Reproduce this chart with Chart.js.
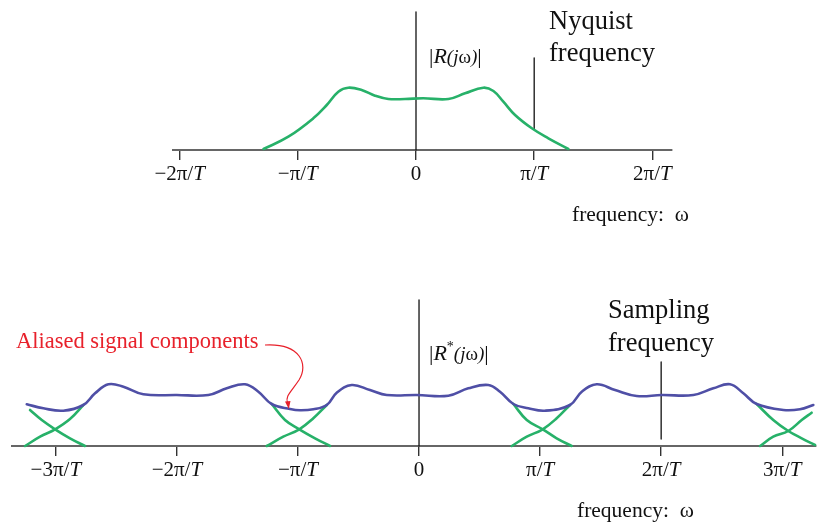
<!DOCTYPE html>
<html><head><meta charset="utf-8">
<script src="https://cdn.jsdelivr.net/npm/chart.js@4.4.0/dist/chart.umd.min.js"></script>
<style>
html,body{margin:0;padding:0;background:#fff;}
#wrap{position:relative;width:820px;height:527px;overflow:hidden;background:#fff;}
canvas{position:absolute;left:0;top:0;}
</style></head><body>
<div id="wrap"><canvas id="c1" width="820" height="527"></canvas><canvas id="c2" width="820" height="527"></canvas></div>
<script>
// ---------- data (x in units of π/T, y = magnitude) ----------
const topTicks = [-2, -1, 0, 1, 2];
const topTickLabels = ["−2π/T", "−π/T", "0", "π/T", "2π/T"];
const bottomTicks = [-3, -2, -1, 0, 1, 2, 3];
const bottomTickLabels = ["−3π/T", "−2π/T", "−π/T", "0", "π/T", "2π/T", "3π/T"];

// |R(jω)| continuous spectrum
const spectrumX = [-1.29,-1.080,-0.869,-0.755,-0.657,-0.573,-0.460,-0.347,-0.234,-0.093,0.062,0.274,0.415,0.570,0.655,0.739,0.838,0.980,1.120,1.289];
const spectrumY = [1,13.3,31.7,45,58.3,62.3,60,54.3,51,51,51.7,51,56.7,62.3,59,48.3,35,21.7,11.7,1];

// |R*(jω)| sampled spectrum (sum of shifted copies)
const sampledX = [-3.240,-3.103,-2.938,-2.773,-2.676,-2.566,-2.442,-2.277,-2.001,-1.740,-1.588,-1.437,-1.327,-1.217,-1.065,-0.983,-0.873,-0.762,-0.680,-0.556,-0.405,-0.267,-0.019,0.242,0.407,0.572,0.669,0.779,0.903,1.041,1.247,1.344,1.468,1.619,1.798,2.005,2.266,2.431,2.569,2.679,2.789,3.009,3.147,3.257];
const sampledY = [41.7,37.7,35.3,41,52.7,61.7,59.3,51.7,51,51,57.7,61.7,54.3,42,37,35.7,36.7,41,53.3,61,56,51,51,50.3,57.7,61,54.3,42,37.7,35.3,41,54.3,61.7,56,50,51,51,57.7,61.7,52.7,42,36,36.7,41];

// overlapping tails of the shifted copies (aliased components)
const tailDownNeg3X = [-3.213,-3.116,-3.006,-2.883,-2.759];
const tailDownNeg3Y = [36,26,16.7,7.7,0];
const tailUpNeg3X = [-3.254,-3.130,-3.006,-2.883,-2.773];
const tailUpNeg3Y = [0,9.3,16.7,27,41];
const tailDownNeg1X = [-1.217,-1.107,-0.989,-0.859,-0.735];
const tailDownNeg1Y = [42,26,16.7,7.7,0];
const tailUpNeg1X = [-1.258,-1.121,-0.989,-0.873,-0.762];
const tailUpNeg1Y = [0,9.3,16.7,27.7,41];
const tailDownPos1X = [0.779,0.890,1.022,1.137,1.261];
const tailDownPos1Y = [42,26,16.7,7.7,0];
const tailUpPos1X = [0.766,0.890,1.022,1.137,1.247];
const tailUpPos1Y = [0,9.3,16.7,27.7,41];
const tailDownPos3X = [2.789,2.926,3.050,3.161,3.271];
const tailDownPos3Y = [42,26,15,7.7,1];
const tailUpPos3X = [2.817,2.926,3.050,3.161,3.243];
const tailUpPos3Y = [0,9.3,15,26,33.3];

// marker lines
const nyquistX = 1, nyquistY = [21, 92];
const samplingX = 2, samplingY = [7, 84];
const topAxisLineY = [0, 138];
const bottomAxisLineY = [0, 146];

// ---------- helpers ----------
const GREEN = '#27b169', BLUE = '#4f4fa6', RED = '#e8212b';
const SERIF = '"Liberation Serif", "Times New Roman", serif';
function pts(xs, ys) { return xs.map((x, i) => ({x: x, y: ys[i]})); }
function vline(x, ys) { return ys.map(y => ({x: x, y: y})); }
function curve(data, color) {
  return {data: data, borderColor: color, borderWidth: 2.6, pointRadius: 0, fill: false,
          tension: 0.4, clip: false};
}
function straight(data) {
  return {data: data, borderColor: '#111', borderWidth: 1.3, pointRadius: 0, fill: false, tension: 0, clip: false};
}
function rich(ctx, parts, x, y, align) {
  let w = 0;
  parts.forEach(p => { ctx.font = p[1]; w += ctx.measureText(p[0]).width; });
  let cx = align === 'center' ? x - w / 2 : x;
  ctx.textBaseline = 'alphabetic'; ctx.textAlign = 'left';
  parts.forEach(p => { ctx.font = p[1]; ctx.fillText(p[0], cx, y + (p[2] || 0)); cx += ctx.measureText(p[0]).width; });
}
function tickLabelParts(lbl) {
  const f = '21px ' + SERIF, fi = 'italic 21px ' + SERIF;
  if (lbl.endsWith('T')) return [[lbl.slice(0, -1), f], ['T', fi]];
  return [[lbl, f]];
}
function xScale(min, max, ticks) {
  return {
    type: 'linear', min: min, max: max,
    afterBuildTicks: s => { s.ticks = ticks.map(v => ({value: v})); },
    afterFit: s => { s.height = 40; },
    grid: {display: true, drawOnChartArea: false, drawTicks: true, tickLength: 10, color: '#333', lineWidth: 1.4},
    border: {display: true, color: '#666', width: 2},
    ticks: {display: false}
  };
}
function labelPlugin(ticks, labels, baseY) {
  return {
    id: 'lbls' + baseY,
    afterDraw(chart) {
      const ctx = chart.ctx, sx = chart.scales.x;
      ctx.save(); ctx.fillStyle = '#111';
      ticks.forEach((v, i) => rich(ctx, tickLabelParts(labels[i]), sx.getPixelForValue(v), baseY, 'center'));
      ctx.restore();
    }
  };
}
const common = {
  responsive: false, animation: false, devicePixelRatio: 1, events: [],
  plugins: {legend: {display: false}, tooltip: {enabled: false}, title: {display: false}},
  elements: {line: {borderCapStyle: 'round', borderJoinStyle: 'round'}}
};
function magLabel(ctx, x, y, star) {
  const big = '22px ' + SERIF, bigI = 'italic 22px ' + SERIF, sm = '19px ' + SERIF, smI = 'italic 19px ' + SERIF;
  const parts = [['|', big], ['R', bigI]];
  if (star) parts.push(['*', '14px ' + SERIF, -9]);
  parts.push(['(', smI], ['j', smI], ['ω', sm], [')', smI], ['|', big]);
  rich(ctx, parts, x, y, 'left');
}

// ---------- top chart ----------
const topText = {
  id: 'topText',
  afterDraw(chart) {
    const ctx = chart.ctx; ctx.save(); ctx.fillStyle = '#111';
    rich(ctx, [['Nyquist', '26.5px ' + SERIF]], 549, 29, 'left');
    rich(ctx, [['frequency', '26.5px ' + SERIF]], 549, 61, 'left');
    magLabel(ctx, 429, 63, false);
    rich(ctx, [['frequency:  ω', '21.5px ' + SERIF]], 572, 221, 'left');
    ctx.restore();
  }
};
new Chart(document.getElementById('c1'), {
  type: 'line',
  data: {datasets: [
    curve(pts(spectrumX, spectrumY), GREEN),
    straight(vline(0, topAxisLineY)),
    straight(vline(nyquistX, nyquistY))
  ]},
  options: Object.assign({}, common, {
    layout: {padding: {left: 173, right: 148, top: 10, bottom: 527 - 150 - 40}},
    scales: {
      x: xScale(-2.056, 2.166, topTicks),
      y: {type: 'linear', min: 0, max: 140, display: false}
    }
  }),
  plugins: [labelPlugin(topTicks, topTickLabels, 180), topText]
});

// ---------- bottom chart ----------
const bottomText = {
  id: 'bottomText',
  afterDraw(chart) {
    const ctx = chart.ctx; ctx.save(); ctx.fillStyle = '#111';
    rich(ctx, [['Sampling', '26.5px ' + SERIF]], 608, 318, 'left');
    rich(ctx, [['frequency', '26.5px ' + SERIF]], 608, 351, 'left');
    magLabel(ctx, 429, 360, true);
    rich(ctx, [['frequency:  ω', '21.5px ' + SERIF]], 577, 517, 'left');
    ctx.fillStyle = RED;
    rich(ctx, [['Aliased signal components', '22.5px ' + SERIF]], 16, 348, 'left');
    // pointer arrow
    ctx.strokeStyle = RED; ctx.lineWidth = 1.2;
    ctx.beginPath();
    ctx.moveTo(265, 345);
    ctx.bezierCurveTo(300, 343, 309, 364, 299, 380);
    ctx.bezierCurveTo(291, 392, 285, 396, 287.5, 403);
    ctx.stroke();
    ctx.fillStyle = RED;
    ctx.beginPath();
    ctx.moveTo(288.8, 409); ctx.lineTo(285.0, 401.5); ctx.lineTo(290.5, 401.0); ctx.closePath(); ctx.fill();
    ctx.restore();
  }
};
new Chart(document.getElementById('c2'), {
  type: 'line',
  data: {datasets: [
    curve(pts(sampledX, sampledY), BLUE),
    curve(pts(tailDownNeg3X, tailDownNeg3Y), GREEN),
    curve(pts(tailUpNeg3X, tailUpNeg3Y), GREEN),
    curve(pts(tailDownNeg1X, tailDownNeg1Y), GREEN),
    curve(pts(tailUpNeg1X, tailUpNeg1Y), GREEN),
    curve(pts(tailDownPos1X, tailDownPos1Y), GREEN),
    curve(pts(tailUpPos1X, tailUpPos1Y), GREEN),
    curve(pts(tailDownPos3X, tailDownPos3Y), GREEN),
    curve(pts(tailUpPos3X, tailUpPos3Y), GREEN),
    straight(vline(0, bottomAxisLineY)),
    straight(vline(samplingX, samplingY))
  ]},
  options: Object.assign({}, common, {
    layout: {padding: {left: 12, right: 4, top: 296, bottom: 527 - 446 - 40}},
    scales: {
      x: xScale(-3.362, 3.279, bottomTicks),
      y: {type: 'linear', min: 0, max: 150, display: false}
    }
  }),
  plugins: [labelPlugin(bottomTicks, bottomTickLabels, 476), bottomText]
});
</script>
</body></html>
